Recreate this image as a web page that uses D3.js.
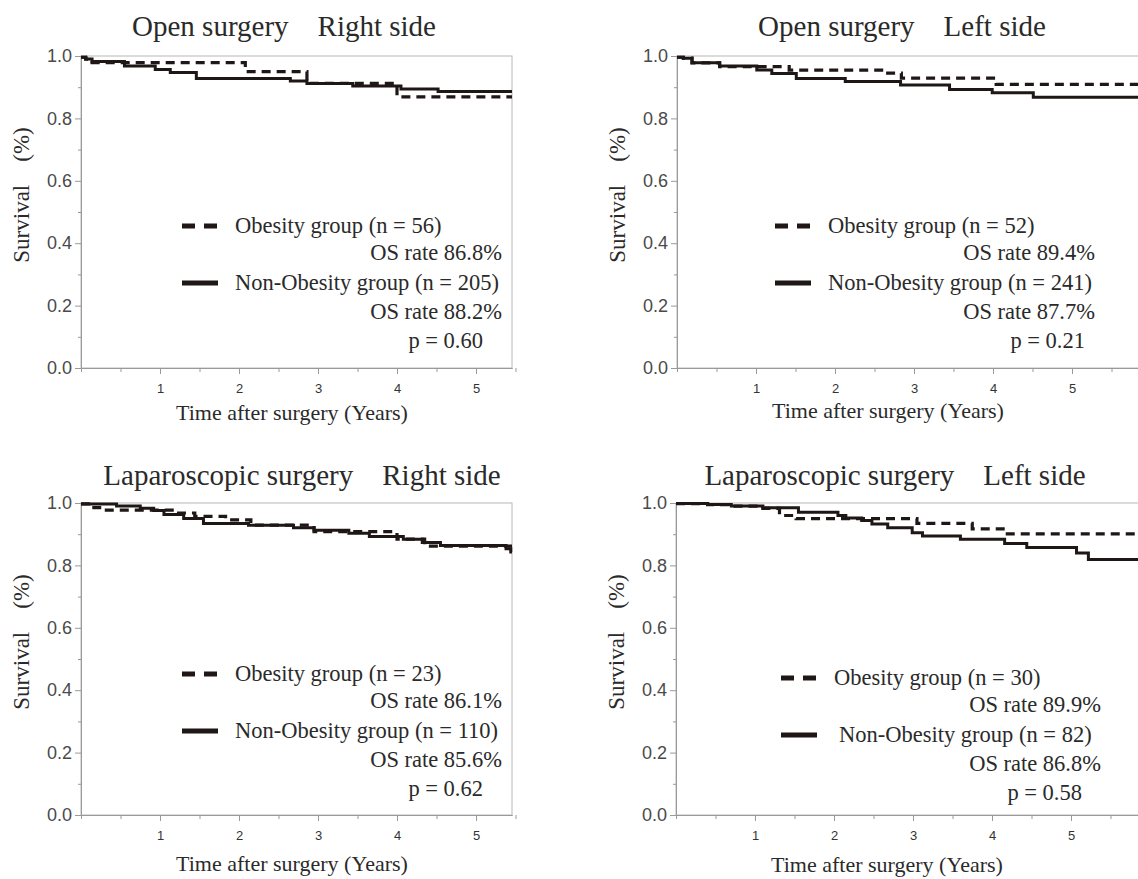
<!DOCTYPE html>
<html lang="en">
<head>
<meta charset="UTF-8">
<title>Overall survival – obesity vs non-obesity</title>
<script src="https://cdnjs.cloudflare.com/ajax/libs/d3/7.8.5/d3.min.js"></script>
<style>
  body { margin: 0; background: #fff; }
  svg { display: block; background: #fff; }
  .serif { font-family: "Times New Roman", "Liberation Serif", serif; fill: #2a2a2a; }
  .yaxis text { font-family: Arial, "Liberation Sans", sans-serif; font-size: 18px; fill: #4a4a4a; }
  .xaxis text { font-family: Arial, "Liberation Sans", sans-serif; font-size: 13px; fill: #333; }
  .axis path, .axis line { stroke: #9a9a9a; stroke-width: 1; }
</style>
</head>
<body>
<svg id="chart" width="1138" height="879"></svg>
<script>
// panel texts
const panelTitles = [
  "Open surgery\u3000Right side",
  "Open surgery\u3000Left side",
  "Laparoscopic surgery\u3000Right side",
  "Laparoscopic surgery\u3000Left side"
];
const obesityN = [56, 52, 23, 30];
const nonObesityN = [205, 241, 110, 82];
const obesityOS = ["86.8%", "89.4%", "86.1%", "89.9%"];
const nonObesityOS = ["88.2%", "87.7%", "85.6%", "86.8%"];
const pValues = ["0.60", "0.21", "0.62", "0.58"];

const yTicks = [0, 0.2, 0.4, 0.6, 0.8, 1.0];
const yMinorTicks = [0.1, 0.3, 0.5, 0.7, 0.9];
const xTicks = [1, 2, 3, 4, 5];
const xMinorTicks = [0, 0.5, 1.5, 2.5, 3.5, 4.5, 5.5];

// Kaplan-Meier steps: [years, survival] (value holds until next step)
const openRightObese = [[0, 0.996], [0.06, 0.99], [0.14, 0.979], [2.08, 0.95], [2.86, 0.912], [4.0, 0.869]];
const openRightNonObese = [[0, 0.996], [0.06, 0.99], [0.14, 0.982], [0.55, 0.968], [0.94, 0.957], [1.13, 0.947],
  [1.46, 0.928], [2.65, 0.92], [2.86, 0.912], [3.44, 0.904], [4.05, 0.894], [4.52, 0.886]];

const openLeftObese = [[0, 0.996], [0.08, 0.993], [0.19, 0.978], [0.54, 0.966], [1.42, 0.955], [2.62, 0.945],
  [2.84, 0.929], [4.04, 0.909]];
const openLeftNonObese = [[0, 0.996], [0.08, 0.993], [0.19, 0.978], [0.54, 0.968], [1.01, 0.955], [1.2, 0.944],
  [1.51, 0.928], [2.13, 0.918], [2.83, 0.907], [3.45, 0.893], [3.99, 0.882], [4.51, 0.868]];

const lapRightObese = [[0, 0.997], [0.12, 0.985], [0.28, 0.977], [1.21, 0.968], [1.44, 0.957], [1.83, 0.946],
  [2.15, 0.929], [2.95, 0.908], [4.0, 0.884], [4.35, 0.862]];
const lapRightNonObese = [[0, 0.997], [0.45, 0.99], [0.75, 0.983], [0.92, 0.976], [1.05, 0.963], [1.3, 0.95],
  [1.55, 0.934], [2.12, 0.929], [2.69, 0.921], [2.95, 0.913], [3.39, 0.903], [3.65, 0.893], [4.08, 0.884],
  [4.32, 0.873], [4.55, 0.864], [5.38, 0.853], [5.44, 0.843]];

const lapLeftObese = [[0, 0.998], [0.4, 0.995], [0.7, 0.99], [1.1, 0.983], [1.31, 0.96], [1.52, 0.95],
  [3.05, 0.935], [3.75, 0.917], [4.17, 0.901]];
const lapLeftNonObese = [[0, 0.998], [0.4, 0.995], [0.7, 0.99], [1.1, 0.985], [1.55, 0.97], [2.05, 0.96],
  [2.15, 0.952], [2.35, 0.944], [2.48, 0.933], [2.68, 0.921], [2.99, 0.905], [3.12, 0.894], [3.6, 0.884],
  [4.16, 0.87], [4.44, 0.857], [5.07, 0.84], [5.22, 0.819]];

const obesityCurves = [openRightObese, openLeftObese, lapRightObese, lapLeftObese];
const nonObesityCurves = [openRightNonObese, openLeftNonObese, lapRightNonObese, lapLeftNonObese];

// layout of each panel (axis origin, plot width, text nudges)
const plotH = 312;
const pxPerYear = 79;
const panels = [
  { x: 81,  y: 56,  w: 431, titleDx: 203, titleDy: -20, xTitleDy: 52, lg: [0, 0] },
  { x: 677, y: 56,  w: 470, titleDx: 225, titleDy: -20, xTitleDy: 50, lg: [-3, 0] },
  { x: 81,  y: 503, w: 431, titleDx: 221, titleDy: -18, xTitleDy: 56, lg: [0, 1] },
  { x: 676, y: 503, w: 470, titleDx: 219, titleDy: -18, xTitleDy: 57, lg: [4, 5] }
];

const ink = "#1f1616";
const svg = d3.select("#chart");

panels.forEach((p, i) => {
  const xMax = p.w / pxPerYear;
  const x = d3.scaleLinear().domain([0, xMax]).range([p.x, p.x + p.w]);
  const y = d3.scaleLinear().domain([0, 1]).range([p.y + plotH, p.y]);
  const g = svg.append("g");
  const bottom = p.y + plotH;

  // frame
  g.append("rect")
    .attr("x", p.x).attr("y", p.y)
    .attr("width", p.w).attr("height", plotH)
    .attr("fill", "none").attr("stroke", "#b8b8b8");

  // y axis
  g.append("g").attr("class", "axis yaxis")
    .attr("transform", `translate(${p.x},0)`)
    .call(d3.axisLeft(y).tickValues(yTicks).tickFormat(d3.format(".1f")).tickSize(6).tickSizeOuter(0).tickPadding(3));
  g.append("g").attr("class", "axis")
    .attr("transform", `translate(${p.x},0)`)
    .call(d3.axisLeft(y).tickValues(yMinorTicks).tickFormat("").tickSize(3).tickSizeOuter(0));

  // x axis
  g.append("g").attr("class", "axis xaxis")
    .attr("transform", `translate(0,${bottom})`)
    .call(d3.axisBottom(x).tickValues(xTicks).tickFormat(d3.format("d")).tickSize(6).tickSizeOuter(0).tickPadding(10));
  g.append("g").attr("class", "axis")
    .attr("transform", `translate(0,${bottom})`)
    .call(d3.axisBottom(x).tickValues(xMinorTicks).tickFormat("").tickSize(4).tickSizeOuter(0));

  // curves
  const line = d3.line().x(d => x(d[0])).y(d => y(d[1])).curve(d3.curveStepAfter);
  const withEnd = s => s.concat([[xMax, s[s.length - 1][1]]]);

  g.append("path")
    .attr("d", line(withEnd(nonObesityCurves[i])))
    .attr("fill", "none").attr("stroke", ink).attr("stroke-width", 3);
  g.append("path")
    .attr("d", line(withEnd(obesityCurves[i])))
    .attr("fill", "none").attr("stroke", ink).attr("stroke-width", 3.2)
    .attr("stroke-dasharray", "9,6");

  // titles
  g.append("text").attr("class", "serif")
    .attr("x", p.x + p.titleDx).attr("y", p.y + p.titleDy)
    .attr("text-anchor", "middle").style("font-size", "29px")
    .text(panelTitles[i]);

  g.append("text").attr("class", "serif")
    .attr("x", p.x + 211).attr("y", bottom + p.xTitleDy)
    .attr("text-anchor", "middle").style("font-size", "22px")
    .text("Time after surgery (Years)");

  g.append("text").attr("class", "serif")
    .attr("transform", `translate(${p.x - 52},${p.y + 139}) rotate(-90)`)
    .attr("text-anchor", "middle").style("font-size", "23px")
    .text("Survival\u3000(%)");

  // legend
  const lx = p.x + p.lg[0], ly = bottom + p.lg[1];
  const lg = g.append("g").style("font-size", "22.5px");
  lg.append("line")
    .attr("x1", lx + 101).attr("x2", lx + 136)
    .attr("y1", ly - 142).attr("y2", ly - 142)
    .attr("stroke", ink).attr("stroke-width", 5).attr("stroke-dasharray", "13,9");
  lg.append("text").attr("class", "serif")
    .attr("x", lx + 154).attr("y", ly - 135)
    .text(`Obesity group (n = ${obesityN[i]})`);
  lg.append("text").attr("class", "serif")
    .attr("x", lx + 421).attr("y", ly - 108).attr("text-anchor", "end")
    .text(`OS rate ${obesityOS[i]}`);
  lg.append("line")
    .attr("x1", lx + 101).attr("x2", lx + 137)
    .attr("y1", ly - 85).attr("y2", ly - 85)
    .attr("stroke", ink).attr("stroke-width", 5);
  lg.append("text").attr("class", "serif")
    .attr("x", lx + 154 + (i === 3 ? 5 : 0)).attr("y", ly - 78)
    .text(`Non-Obesity group (n = ${nonObesityN[i]})`);
  lg.append("text").attr("class", "serif")
    .attr("x", lx + 421).attr("y", ly - 49).attr("text-anchor", "end")
    .text(`OS rate ${nonObesityOS[i]}`);
  lg.append("text").attr("class", "serif")
    .attr("x", lx + 402 + (i === 1 ? 9 : 0)).attr("y", ly - 20).attr("text-anchor", "end")
    .text(`p = ${pValues[i]}`);
});
</script>
</body>
</html>
